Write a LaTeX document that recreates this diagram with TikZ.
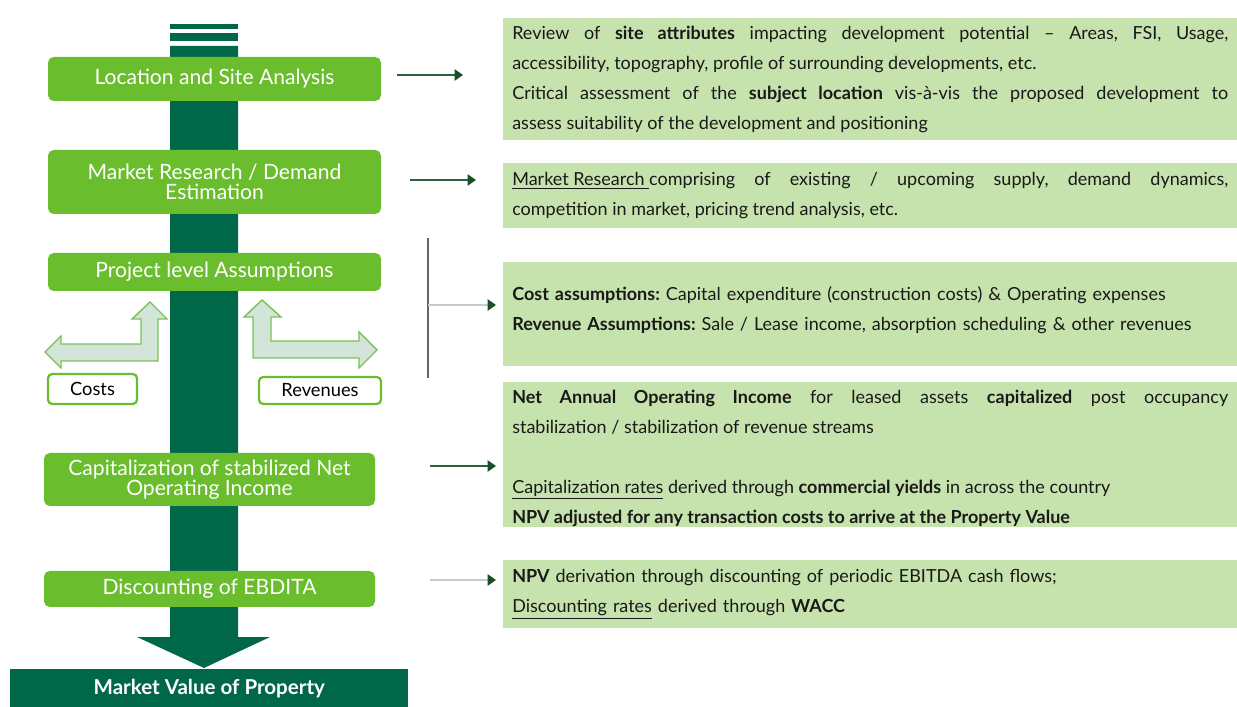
\documentclass[tikz,border=0pt]{standalone}
\usepackage{fontspec}
\setmainfont{Lato}
\usetikzlibrary{arrows.meta}
\definecolor{dkgreen}{RGB}{0,104,72}
\definecolor{midgreen}{RGB}{106,189,45}
\definecolor{palegreen}{RGB}{198,227,173}
\definecolor{arrfill}{RGB}{211,228,216}
\definecolor{arrline}{RGB}{125,192,90}
\definecolor{conndk}{RGB}{45,95,60}
\definecolor{headdk}{RGB}{25,80,35}
\definecolor{connlt}{RGB}{195,205,195}
\newcommand{\pxu}{0.025cm}
\hyphenpenalty=10000
\frenchspacing
\begin{document}
\begin{tikzpicture}[x=0.025cm,y=-0.025cm,
  stagebox/.style={fill=midgreen, rounded corners=4pt, text=white, inner sep=0pt, align=center,
    font=\fontsize{15}{14.5}\selectfont},
  infobox/.style={fill=palegreen, anchor=north west, inner xsep=9*\pxu, inner ysep=0pt,
    text width=716*\pxu, minimum width=734*\pxu, text=black!90,
    font=\fontsize{12.8}{21.3}\selectfont\frenchspacing},
  tagbox/.style={draw=midgreen, line width=1.6pt, fill=white, rounded corners=3pt, inner sep=0pt,
    font=\fontsize{13}{14}\selectfont, text=black},
  bentarrow/.style={fill=arrfill, draw=arrline, line width=1pt, line join=miter},
  conn/.style={draw=conndk, line width=1.4pt, -{Triangle[length=6pt,width=8pt,fill=headdk,color=headdk]}},
  connlight/.style={draw=connlt, line width=2pt, -{Triangle[length=6pt,width=8pt,fill=headdk,color=headdk]}},
  bracket/.style={draw=black!60, line width=0.8pt}
]
\useasboundingbox (0,0) rectangle (1237,707);

% central bar with arrow head
\fill[dkgreen] (170,46) -- (238,46) -- (238,637) -- (270,637) -- (204,668) -- (137,637) -- (170,637) -- cycle;
\fill[dkgreen] (170,24) rectangle (238,29);
\fill[dkgreen] (170,33) rectangle (238,41);

% stage boxes
\node[stagebox, minimum width=333*\pxu, minimum height=44*\pxu] (L1) at (214.5,79) {Location and Site Analysis};
\node[stagebox, minimum width=333*\pxu, minimum height=64*\pxu] (L2) at (214.5,182) {Market Research / Demand\\Estimation};
\node[stagebox, minimum width=333*\pxu, minimum height=38*\pxu] (L3) at (214.5,272) {Project level Assumptions};
\node[stagebox, minimum width=331*\pxu, minimum height=53*\pxu] (L4) at (209.5,479.5) {Capitalization of stabilized Net\\Operating Income};
\node[stagebox, minimum width=331*\pxu, minimum height=36*\pxu] (L5) at (209.5,589) {Discounting of EBDITA};
\node[fill=dkgreen, text=white, anchor=north west, inner sep=0pt, minimum width=398*\pxu, minimum height=38*\pxu,
  font=\bfseries\fontsize{14.6}{15}\selectfont] (MV) at (10,669) {Market Value of Property};

% bent arrows
\filldraw[bentarrow] (45,352) -- (61,336) -- (61,344) -- (141,344) -- (141,319) -- (132,319) -- (150,302)
  -- (167,319) -- (158,319) -- (158,361) -- (61,361) -- (61,368) -- cycle;
\filldraw[bentarrow] (262,300) -- (281,317) -- (271,317) -- (271,341) -- (359,341) -- (359,332) -- (377,350)
  -- (359,368) -- (359,358) -- (253,358) -- (253,317) -- (244,317) -- cycle;

\node[tagbox, minimum width=89*\pxu, minimum height=30*\pxu] (costs) at (92.5,389) {Costs};
\node[tagbox, minimum width=122*\pxu, minimum height=27*\pxu] (rev) at (320,390.5) {Revenues};

% info boxes
\node[infobox, minimum height=122*\pxu, align=justify] (R1) at (503,18) {Review of \textbf{site attributes} impacting development potential -- Areas, FSI, Usage,\linebreak accessibility, topography, profile of surrounding developments, etc.\\Critical assessment of the \textbf{subject location} vis-à-vis the proposed development to\linebreak assess suitability of the development and positioning};
\node[infobox, minimum height=65*\pxu, align=justify] (R2) at (503,163) {\underline{Market Research\ }comprising of existing / upcoming supply, demand dynamics,\linebreak competition in market, pricing trend analysis, etc.};
\node[infobox, minimum height=104*\pxu, align=left] (R3) at (503,262) {{\bfseries Cost assumptions:} Capital expenditure (construction costs) \& Operating expenses\\{\bfseries Revenue Assumptions:} Sale / Lease income, absorption scheduling \& other revenues\par\vspace{0.2cm}};
\node[infobox, minimum height=145*\pxu, align=justify] (R4) at (503,382) {\textbf{Net Annual Operating Income} for leased assets \textbf{capitalized} post occupancy\linebreak stabilization / stabilization of revenue streams\\[21.3pt]\underline{Capitalization rates} derived through \textbf{commercial yields} in across the country\\\textbf{NPV adjusted for any transaction costs to arrive at the Property Value}\par\vspace{-0.18cm}};
\node[infobox, minimum height=68*\pxu, align=left] (R5) at (503,560) {{\bfseries NPV} derivation through discounting of periodic EBITDA cash flows;\\\underline{Discounting rates} derived through {\bfseries WACC}};

% connectors
\coordinate (s1) at (397,75);  \coordinate (e1) at (463,75);
\coordinate (s2) at (410,180); \coordinate (e2) at (476,180);
\coordinate (bt) at (428,238); \coordinate (bb) at (428,378);
\coordinate (s3) at (428,305); \coordinate (e3) at (496,305);
\coordinate (s4) at (430,466); \coordinate (e4) at (496,466);
\coordinate (s5) at (430,580); \coordinate (e5) at (496,580);
\draw[conn] (s1) -- (e1);
\draw[conn] (s2) -- (e2);
\draw[bracket] (bt) -- (bb);
\draw[connlight] (s3) -- (e3);
\draw[conn] (s4) -- (e4);
\draw[connlight] (s5) -- (e5);
\end{tikzpicture}
\end{document}
